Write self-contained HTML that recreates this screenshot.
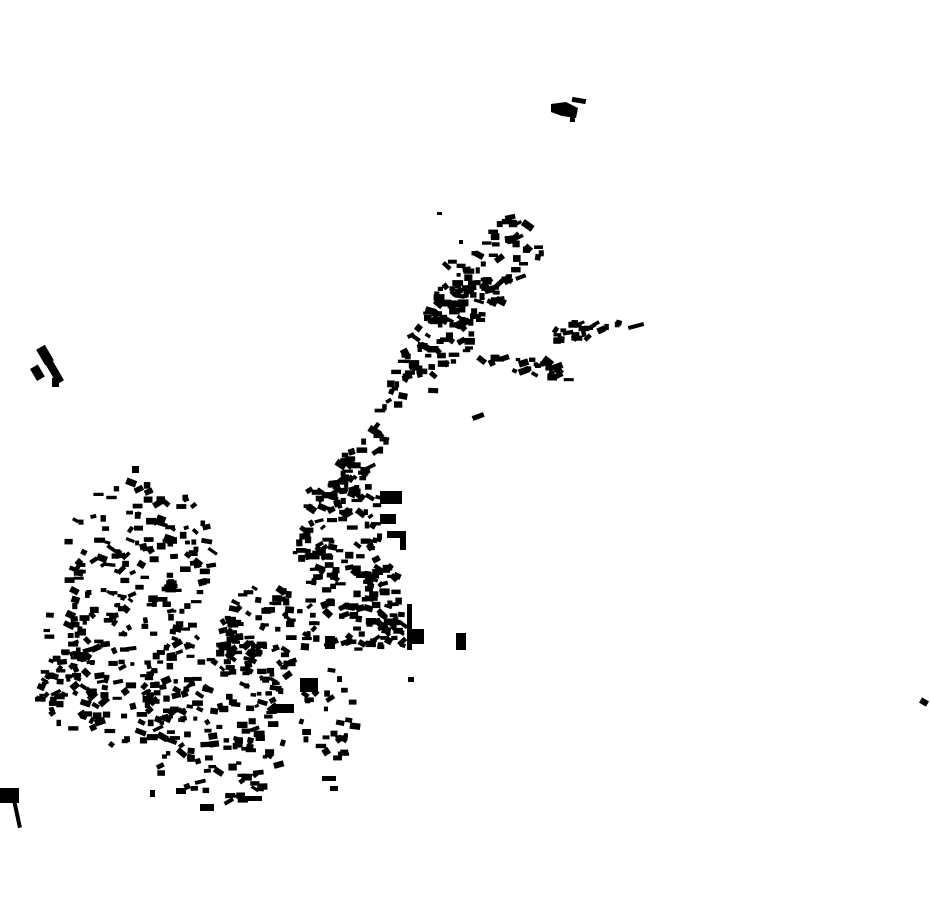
<!DOCTYPE html>
<html><head><meta charset="utf-8">
<style>html,body{margin:0;padding:0;background:#fff;width:930px;height:924px;overflow:hidden}svg{display:block}</style>
</head><body>
<svg id="s" width="930" height="924" viewBox="0 0 930 924" xmlns="http://www.w3.org/2000/svg">
<g fill="#000">
<path d="M551 104 L566 102 L578 108 L576 118 L562 116 L551 112 Z"/>
<rect x="572" y="98" width="14" height="5" transform="rotate(10 579 100)"/>
<rect x="570" y="112" width="5" height="10"/>
<rect x="40" y="346" width="10" height="18" transform="rotate(-30 45 355)"/>
<rect x="50" y="358" width="8" height="26" transform="rotate(-30 54 371)"/>
<rect x="33" y="366" width="9" height="14" transform="rotate(-30 37 373)"/>
<rect x="52" y="378" width="7" height="9"/>
<rect x="0" y="788" width="19" height="15"/>
<rect x="15" y="800" width="4" height="28" transform="rotate(-12 17 814)"/>
<rect x="920" y="699" width="8" height="6" transform="rotate(30 924 702)"/>
<rect x="380" y="491" width="22" height="13"/>
<rect x="380" y="514" width="16" height="10"/>
<rect x="387" y="531" width="19" height="7"/>
<rect x="400" y="538" width="6" height="12"/>
<rect x="408" y="629" width="16" height="15"/>
<rect x="407" y="604" width="5" height="46"/>
<rect x="456" y="633" width="10" height="17"/>
<rect x="325" y="636" width="10" height="13"/>
<rect x="272" y="704" width="22" height="9"/>
<rect x="472" y="414" width="12" height="5" transform="rotate(-20 478 416)"/>
<rect x="628" y="324" width="16" height="4" transform="rotate(-15 636 326)"/>
<rect x="408" y="677" width="6" height="5"/>
<rect x="522" y="222" width="12" height="7" transform="rotate(35 528 225)"/>
<rect x="437" y="212" width="5" height="3"/>
<rect x="459" y="240" width="4" height="4"/>
<rect x="132" y="466" width="7" height="7"/>
<rect x="300" y="678" width="18" height="14"/>
<rect x="200" y="804" width="14" height="7"/>
<rect x="244" y="796" width="18" height="5"/>
<rect x="176" y="788" width="10" height="6"/>
<rect x="150" y="790" width="5" height="7"/>
<rect x="322" y="776" width="14" height="5"/>
<rect x="330" y="786" width="8" height="5"/>
</g>
<g id="g" fill="#000"></g>
</svg>
<script>
var seed=12345;function r(){seed=(seed*16807)%2147483647;return (seed-1)/2147483646;}
var g=document.getElementById('g'),h='';
function rect(x,y){var w=4+r()*7,hh=3+r()*4,a=(r()<0.5?0:(r()*90-45));
h+='<rect x="'+(x-w/2).toFixed(1)+'" y="'+(y-hh/2).toFixed(1)+'" width="'+w.toFixed(1)+'" height="'+hh.toFixed(1)+'" transform="rotate('+a.toFixed(0)+' '+x.toFixed(1)+' '+y.toFixed(1)+')"/>';}
function ell(cx,cy,rx,ry,n){for(var i=0;i<n;i++){var t=r()*6.283,d=Math.sqrt(r());rect(cx+Math.cos(t)*d*rx,cy+Math.sin(t)*d*ry);}}
function line(x1,y1,x2,y2,w,n){for(var i=0;i<n;i++){var t=r(),o=(r()-0.5)*w;var dx=x2-x1,dy=y2-y1,L=Math.sqrt(dx*dx+dy*dy);rect(x1+dx*t-dy/L*o,y1+dy*t+dx/L*o);}}
function box(x,y,w,hh,n){for(var i=0;i<n;i++)rect(x+r()*w,y+r()*hh);}
ell(140,560,75,80,150);
ell(115,690,80,55,110);
ell(215,715,75,95,150);
ell(265,640,45,55,90);
box(308,480,72,100,70);
box(308,565,95,85,80);
box(368,565,35,85,30);
ell(330,720,30,50,30);
ell(70,640,30,40,30);
ell(50,700,15,25,14);
line(300,560,385,420,32,70);
line(385,420,410,360,20,16);
line(410,380,530,225,55,130);
line(440,330,470,270,50,35);
line(480,360,570,372,18,25);
line(555,335,625,328,12,16);
ell(585,325,12,8,10);
g.innerHTML=h;
</script>
</body></html>
